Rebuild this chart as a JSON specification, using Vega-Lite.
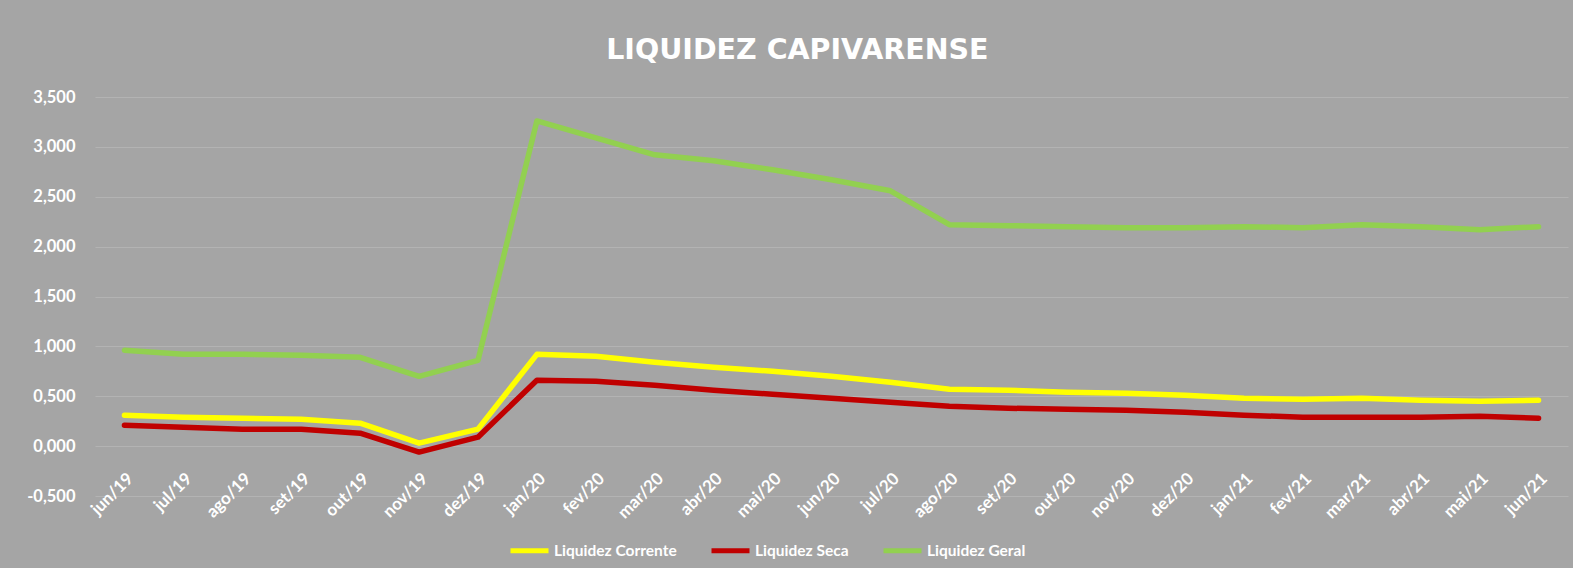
{
  "$schema": "https://vega.github.io/schema/vega-lite/v6.json",
  "width": 1473,
  "height": 399,
  "autosize": {"type": "none"},
  "padding": {"left": 95, "top": 97, "right": 5, "bottom": 72},
  "background": "#a5a5a5",
  "title": {
    "text": "LIQUIDEZ CAPIVARENSE",
    "font": "DejaVu Sans",
    "fontSize": 28.5,
    "fontWeight": "bold",
    "color": "#ffffff",
    "anchor": "middle",
    "frame": "bounds",
    "offset": 25,
    "limit": 0
  },
  "data": {
    "values": [
      {"mes": "jun/19", "serie": "Liquidez Corrente", "valor": 0.31},
      {"mes": "jul/19", "serie": "Liquidez Corrente", "valor": 0.29},
      {"mes": "ago/19", "serie": "Liquidez Corrente", "valor": 0.28},
      {"mes": "set/19", "serie": "Liquidez Corrente", "valor": 0.27},
      {"mes": "out/19", "serie": "Liquidez Corrente", "valor": 0.23},
      {"mes": "nov/19", "serie": "Liquidez Corrente", "valor": 0.03},
      {"mes": "dez/19", "serie": "Liquidez Corrente", "valor": 0.17},
      {"mes": "jan/20", "serie": "Liquidez Corrente", "valor": 0.92},
      {"mes": "fev/20", "serie": "Liquidez Corrente", "valor": 0.90},
      {"mes": "mar/20", "serie": "Liquidez Corrente", "valor": 0.84},
      {"mes": "abr/20", "serie": "Liquidez Corrente", "valor": 0.79},
      {"mes": "mai/20", "serie": "Liquidez Corrente", "valor": 0.75},
      {"mes": "jun/20", "serie": "Liquidez Corrente", "valor": 0.70},
      {"mes": "jul/20", "serie": "Liquidez Corrente", "valor": 0.64},
      {"mes": "ago/20", "serie": "Liquidez Corrente", "valor": 0.57},
      {"mes": "set/20", "serie": "Liquidez Corrente", "valor": 0.56},
      {"mes": "out/20", "serie": "Liquidez Corrente", "valor": 0.54},
      {"mes": "nov/20", "serie": "Liquidez Corrente", "valor": 0.53},
      {"mes": "dez/20", "serie": "Liquidez Corrente", "valor": 0.51},
      {"mes": "jan/21", "serie": "Liquidez Corrente", "valor": 0.48},
      {"mes": "fev/21", "serie": "Liquidez Corrente", "valor": 0.47},
      {"mes": "mar/21", "serie": "Liquidez Corrente", "valor": 0.48},
      {"mes": "abr/21", "serie": "Liquidez Corrente", "valor": 0.46},
      {"mes": "mai/21", "serie": "Liquidez Corrente", "valor": 0.45},
      {"mes": "jun/21", "serie": "Liquidez Corrente", "valor": 0.46},
      {"mes": "jun/19", "serie": "Liquidez Seca", "valor": 0.21},
      {"mes": "jul/19", "serie": "Liquidez Seca", "valor": 0.19},
      {"mes": "ago/19", "serie": "Liquidez Seca", "valor": 0.17},
      {"mes": "set/19", "serie": "Liquidez Seca", "valor": 0.17},
      {"mes": "out/19", "serie": "Liquidez Seca", "valor": 0.13},
      {"mes": "nov/19", "serie": "Liquidez Seca", "valor": -0.06},
      {"mes": "dez/19", "serie": "Liquidez Seca", "valor": 0.09},
      {"mes": "jan/20", "serie": "Liquidez Seca", "valor": 0.66},
      {"mes": "fev/20", "serie": "Liquidez Seca", "valor": 0.65},
      {"mes": "mar/20", "serie": "Liquidez Seca", "valor": 0.61},
      {"mes": "abr/20", "serie": "Liquidez Seca", "valor": 0.56},
      {"mes": "mai/20", "serie": "Liquidez Seca", "valor": 0.52},
      {"mes": "jun/20", "serie": "Liquidez Seca", "valor": 0.48},
      {"mes": "jul/20", "serie": "Liquidez Seca", "valor": 0.44},
      {"mes": "ago/20", "serie": "Liquidez Seca", "valor": 0.40},
      {"mes": "set/20", "serie": "Liquidez Seca", "valor": 0.38},
      {"mes": "out/20", "serie": "Liquidez Seca", "valor": 0.37},
      {"mes": "nov/20", "serie": "Liquidez Seca", "valor": 0.36},
      {"mes": "dez/20", "serie": "Liquidez Seca", "valor": 0.34},
      {"mes": "jan/21", "serie": "Liquidez Seca", "valor": 0.31},
      {"mes": "fev/21", "serie": "Liquidez Seca", "valor": 0.29},
      {"mes": "mar/21", "serie": "Liquidez Seca", "valor": 0.29},
      {"mes": "abr/21", "serie": "Liquidez Seca", "valor": 0.29},
      {"mes": "mai/21", "serie": "Liquidez Seca", "valor": 0.30},
      {"mes": "jun/21", "serie": "Liquidez Seca", "valor": 0.28},
      {"mes": "jun/19", "serie": "Liquidez Geral", "valor": 0.96},
      {"mes": "jul/19", "serie": "Liquidez Geral", "valor": 0.92},
      {"mes": "ago/19", "serie": "Liquidez Geral", "valor": 0.92},
      {"mes": "set/19", "serie": "Liquidez Geral", "valor": 0.91},
      {"mes": "out/19", "serie": "Liquidez Geral", "valor": 0.89},
      {"mes": "nov/19", "serie": "Liquidez Geral", "valor": 0.70},
      {"mes": "dez/19", "serie": "Liquidez Geral", "valor": 0.86},
      {"mes": "jan/20", "serie": "Liquidez Geral", "valor": 3.26},
      {"mes": "fev/20", "serie": "Liquidez Geral", "valor": 3.09},
      {"mes": "mar/20", "serie": "Liquidez Geral", "valor": 2.92},
      {"mes": "abr/20", "serie": "Liquidez Geral", "valor": 2.86},
      {"mes": "mai/20", "serie": "Liquidez Geral", "valor": 2.77},
      {"mes": "jun/20", "serie": "Liquidez Geral", "valor": 2.67},
      {"mes": "jul/20", "serie": "Liquidez Geral", "valor": 2.56},
      {"mes": "ago/20", "serie": "Liquidez Geral", "valor": 2.22},
      {"mes": "set/20", "serie": "Liquidez Geral", "valor": 2.21},
      {"mes": "out/20", "serie": "Liquidez Geral", "valor": 2.20},
      {"mes": "nov/20", "serie": "Liquidez Geral", "valor": 2.19},
      {"mes": "dez/20", "serie": "Liquidez Geral", "valor": 2.19},
      {"mes": "jan/21", "serie": "Liquidez Geral", "valor": 2.20},
      {"mes": "fev/21", "serie": "Liquidez Geral", "valor": 2.19},
      {"mes": "mar/21", "serie": "Liquidez Geral", "valor": 2.22},
      {"mes": "abr/21", "serie": "Liquidez Geral", "valor": 2.20},
      {"mes": "mai/21", "serie": "Liquidez Geral", "valor": 2.17},
      {"mes": "jun/21", "serie": "Liquidez Geral", "valor": 2.20}
    ]
  },
  "mark": {"type": "line", "strokeWidth": 5.5, "strokeCap": "round", "strokeJoin": "round"},
  "encoding": {
    "x": {
      "field": "mes",
      "type": "ordinal",
      "sort": null,
      "scale": {"type": "point", "padding": 0.5},
      "axis": {
        "title": null,
        "labelAngle": -45,
        "labelFont": "Lato",
        "labelFontSize": 17,
        "labelFontWeight": "bold",
        "labelColor": "#ffffff",
        "labelPadding": 24,
        "ticks": false,
        "tickSize": 0,
        "domain": false,
        "grid": false,
        "offset": -50
      }
    },
    "y": {
      "field": "valor",
      "type": "quantitative",
      "scale": {"domain": [-0.5, 3.5], "nice": false, "zero": false},
      "axis": {
        "title": null,
        "values": [-0.5, 0, 0.5, 1, 1.5, 2, 2.5, 3, 3.5],
        "format": ".3f",
        "labelFont": "Lato",
        "labelFontSize": 16.5,
        "labelFontWeight": "bold",
        "labelColor": "#ffffff",
        "labelPadding": 20,
        "ticks": false,
        "tickSize": 0,
        "domain": false,
        "grid": true,
        "gridColor": "#b3b3b3",
        "gridWidth": 1
      }
    },
    "color": {
      "field": "serie",
      "type": "nominal",
      "scale": {
        "domain": ["Liquidez Corrente", "Liquidez Seca", "Liquidez Geral"],
        "range": ["#ffff00", "#c00000", "#92d050"]
      },
      "legend": {
        "title": null,
        "orient": "none",
        "direction": "horizontal",
        "legendX": 413,
        "legendY": 432,
        "symbolType": "stroke",
        "symbolSize": 1444,
        "symbolStrokeWidth": 5,
        "labelFont": "Lato",
        "labelFontSize": 15.5,
        "labelFontWeight": "bold",
        "labelColor": "#ffffff",
        "labelOffset": 3,
        "columnPadding": 24,
        "labelLimit": 300
      }
    }
  },
  "config": {
    "view": {"stroke": null},
    "locale": {
      "number": {"decimal": ",", "thousands": ".", "grouping": [3], "currency": ["R$", ""], "minus": "-"}
    }
  }
}
